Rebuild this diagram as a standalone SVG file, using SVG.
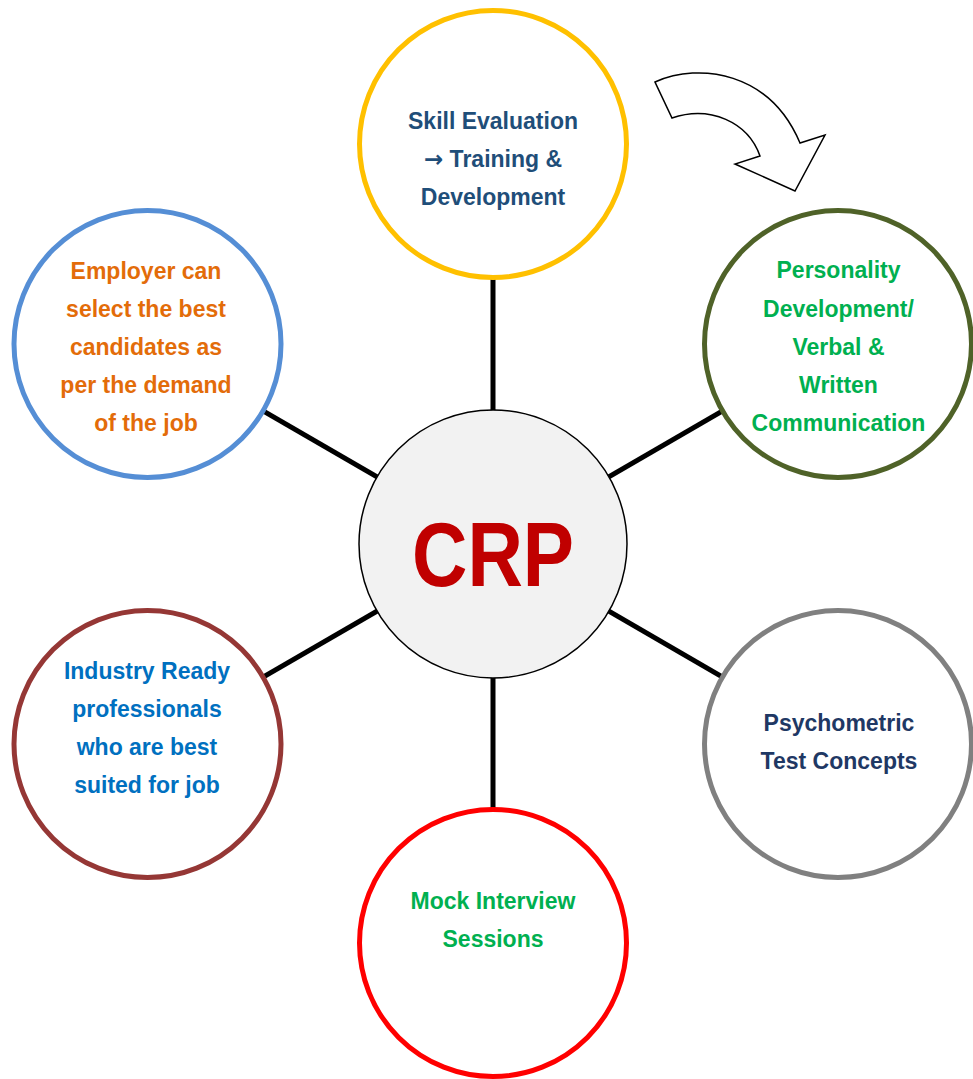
<svg xmlns="http://www.w3.org/2000/svg" width="973" height="1079" viewBox="0 0 973 1079">
  <style>
    .node { fill: #FFFFFF; stroke-width: 5; }
    .lbl { font-family: "Liberation Sans", Arial, sans-serif; font-weight: bold; font-size: 23px; text-anchor: middle; }
    .arr { font-family: "DejaVu Sans", sans-serif; font-weight: bold; }
    .conn { stroke: #000000; stroke-width: 5; fill: none; }
  </style>
  <rect width="973" height="1079" fill="#FFFFFF"/>
  <g id="connectors">
    <line class="conn" x1="493" y1="544" x2="493" y2="144"/>
    <line class="conn" x1="493" y1="544" x2="147.5" y2="344"/>
    <line class="conn" x1="493" y1="544" x2="838" y2="344"/>
    <line class="conn" x1="493" y1="544" x2="838" y2="744"/>
    <line class="conn" x1="493" y1="544" x2="147.5" y2="744"/>
    <line class="conn" x1="493" y1="544" x2="493" y2="943"/>
  </g>
  <g id="curved-arrow">
    <path d="M655,82 C700,62 770,72 800,143 L825,135 L795,191 L735,164 L760,156 C748,122 710,105 672,118 Z" fill="#FFFFFF" stroke="#000000" stroke-width="1.5" stroke-linejoin="miter"/>
  </g>
  <g id="node-skill">
    <circle class="node" cx="493" cy="144" r="133.5" stroke="#FFC000"/>
    <text class="lbl" fill="#1F4E79" x="493" y="129">Skill Evaluation</text>
    <text class="lbl" fill="#1F4E79" x="493" y="167"><tspan class="arr">→</tspan> Training &amp;</text>
    <text class="lbl" fill="#1F4E79" x="493" y="205">Development</text>
  </g>
  <g id="node-employer">
    <circle class="node" cx="147.5" cy="344" r="133.5" stroke="#558ED5"/>
    <text class="lbl" fill="#E36C09" x="146" y="279">Employer can</text>
    <text class="lbl" fill="#E36C09" x="146" y="317">select the best</text>
    <text class="lbl" fill="#E36C09" x="146" y="355">candidates as</text>
    <text class="lbl" fill="#E36C09" x="146" y="393">per the demand</text>
    <text class="lbl" fill="#E36C09" x="146" y="431">of the job</text>
  </g>
  <g id="node-personality">
    <circle class="node" cx="838" cy="344" r="133.5" stroke="#4F6228"/>
    <text class="lbl" fill="#00B050" x="838.5" y="278">Personality</text>
    <text class="lbl" fill="#00B050" x="838.5" y="317">Development/</text>
    <text class="lbl" fill="#00B050" x="838.5" y="355">Verbal &amp;</text>
    <text class="lbl" fill="#00B050" x="838.5" y="393">Written</text>
    <text class="lbl" fill="#00B050" x="838.5" y="431">Communication</text>
  </g>
  <g id="node-psychometric">
    <circle class="node" cx="838" cy="744" r="133.5" stroke="#808080"/>
    <text class="lbl" fill="#1F3864" x="839" y="731">Psychometric</text>
    <text class="lbl" fill="#1F3864" x="839" y="769">Test Concepts</text>
  </g>
  <g id="node-industry">
    <circle class="node" cx="147.5" cy="744" r="133.5" stroke="#953735"/>
    <text class="lbl" fill="#0070C0" x="147" y="679">Industry Ready</text>
    <text class="lbl" fill="#0070C0" x="147" y="717">professionals</text>
    <text class="lbl" fill="#0070C0" x="147" y="755">who are best</text>
    <text class="lbl" fill="#0070C0" x="147" y="793">suited for job</text>
  </g>
  <g id="node-mock">
    <circle class="node" cx="493" cy="943" r="133.5" stroke="#FF0000"/>
    <text class="lbl" fill="#00B050" x="493" y="909">Mock Interview</text>
    <text class="lbl" fill="#00B050" x="493" y="947">Sessions</text>
  </g>
  <g id="node-crp">
    <circle cx="493" cy="544" r="134" fill="#F2F2F2" stroke="#000000" stroke-width="1.5"/>
    <text x="493" y="586" font-family="Liberation Sans, Arial, sans-serif" font-weight="bold" font-size="90" fill="#C00000" text-anchor="middle" textLength="162" lengthAdjust="spacingAndGlyphs">CRP</text>
  </g>
</svg>
